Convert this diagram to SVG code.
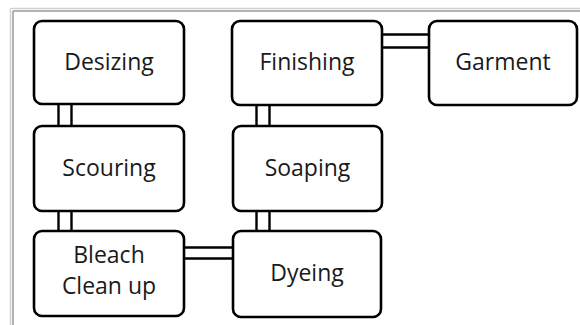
<svg xmlns="http://www.w3.org/2000/svg" width="580" height="325" viewBox="0 0 580 325">
<style>
.box{fill:#fff;stroke:#000;stroke-width:2.6}
.lbl{font-family:"Open Sans","Noto Sans","DejaVu Sans",sans-serif;font-size:23px;fill:#1a1a1a;text-anchor:middle}
.con{stroke:#000;stroke-width:2.4;fill:none}
</style>
<rect width="580" height="325" fill="#fff"/>
<g id="frame">
<line x1="10.5" y1="8.5" x2="10.5" y2="325" stroke="#d2d2d2" stroke-width="1.5"/>
<line x1="10.5" y1="8.5" x2="580" y2="8.5" stroke="#d2d2d2" stroke-width="1.5"/>
<line x1="13" y1="11" x2="13" y2="325" stroke="#9a9a9a" stroke-width="1.5"/>
<line x1="13" y1="11" x2="580" y2="11" stroke="#9a9a9a" stroke-width="1.5"/>
</g>
<g id="connectors">
<path class="con" d="M58.5 104V126M71.5 104V126"/>
<path class="con" d="M58.5 211V231M71.5 211V231"/>
<path class="con" d="M184 247.5H233M184 258.5H233"/>
<path class="con" d="M256.5 211V231M269.5 211V231"/>
<path class="con" d="M256.5 105V126M269.5 105V126"/>
<path class="con" d="M382 34.5H429M382 47.5H429"/>
</g>
<g id="desizing"><rect class="box" x="34" y="21" width="150" height="83" rx="8"/><text class="lbl" x="109" y="70">Desizing</text></g>
<g id="scouring"><rect class="box" x="34" y="126" width="150" height="85" rx="8"/><text class="lbl" x="109" y="176">Scouring</text></g>
<g id="bleach"><rect class="box" x="34" y="231" width="150" height="85" rx="8"/><text class="lbl" x="109" y="263" font-size="22px">Bleach</text><text class="lbl" x="109" y="294" font-size="22px">Clean up</text></g>
<g id="dyeing"><rect class="box" x="233" y="231" width="148" height="86" rx="8"/><text class="lbl" x="307" y="281">Dyeing</text></g>
<g id="soaping"><rect class="box" x="233" y="126" width="149" height="85" rx="8"/><text class="lbl" x="307.5" y="176">Soaping</text></g>
<g id="finishing"><rect class="box" x="232" y="21" width="150" height="84" rx="8"/><text class="lbl" x="307" y="70">Finishing</text></g>
<g id="garment"><rect class="box" x="429" y="21" width="148" height="84" rx="8"/><text class="lbl" x="503" y="70">Garment</text></g>
</svg>
